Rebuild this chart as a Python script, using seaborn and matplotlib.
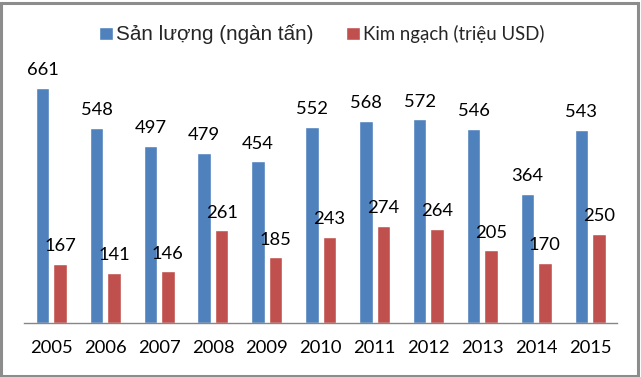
import matplotlib
matplotlib.use("Agg")
import matplotlib.pyplot as plt
import seaborn as sns
import pandas as pd
from matplotlib.patches import Rectangle

years = ["2005", "2006", "2007", "2008", "2009", "2010", "2011", "2012", "2013", "2014", "2015"]
san_luong = [661, 548, 497, 479, 454, 552, 568, 572, 546, 364, 543]
kim_ngach = [167, 141, 146, 261, 185, 243, 274, 264, 205, 170, 250]
series_names = ["Sản lượng (ngàn tấn)", "Kim ngạch (triệu USD)"]

df = pd.DataFrame({
    "year": years * 2,
    "value": san_luong + kim_ngach,
    "series": [series_names[0]] * len(years) + [series_names[1]] * len(years),
})

sns.set_theme(style="white")
plt.rcParams["font.family"] = ["Lato", "DejaVu Sans"]

W, H = 641, 377
fig = plt.figure(figsize=(W / 100, H / 100), dpi=100)
base_y = 323.3
top_y = 50.0
left_px, right_px = 24.4, 617.0
ax = fig.add_axes([left_px / W, (H - base_y) / H, (right_px - left_px) / W, (base_y - top_y) / H])

sns.barplot(data=df, x="year", y="value", hue="series", order=years,
            hue_order=series_names, palette=["#4F81BD", "#C0504D"],
            width=0.648, gap=0.228, saturation=1, ax=ax, legend=True)

ax.set_xlim(-0.5, 10.5)
ax.set_ylim(0, (base_y - top_y) / 0.3564)
ax.set_xlabel("")
ax.set_ylabel("")
ax.set_yticks([])
for s in ["left", "right", "top"]:
    ax.spines[s].set_visible(False)
ax.spines["bottom"].set_color("#868686")
ax.spines["bottom"].set_linewidth(1.0)
ax.tick_params(axis="x", length=0, pad=12.0, labelsize=13.2, colors="black")
for lbl in ax.get_xticklabels():
    lbl.set_color("black")

for cont in ax.containers:
    ax.bar_label(cont, padding=7.0, fontsize=13.2, color="black")

handles, labels = ax.get_legend_handles_labels()
ax.get_legend().remove()
leg = fig.legend(handles, labels, loc="center", bbox_to_anchor=(0.502, 1 - 34 / H),
                 ncol=2, frameon=False, fontsize=13.4, handlelength=0.75,
                 handleheight=0.75, handletextpad=0.2, columnspacing=1.7)
t0, t1 = leg.get_texts()
t0.set_fontfamily(["Liberation Sans", "DejaVu Sans"])
t0.set_fontsize(14.9)

fig.patches.append(Rectangle((1 / W, 1.5 / H), (W - 4) / W, (H - 4) / H,
                             transform=fig.transFigure, fill=False,
                             edgecolor="#8c8c8c", linewidth=2.2))

fig.savefig("out.png", dpi=100)
